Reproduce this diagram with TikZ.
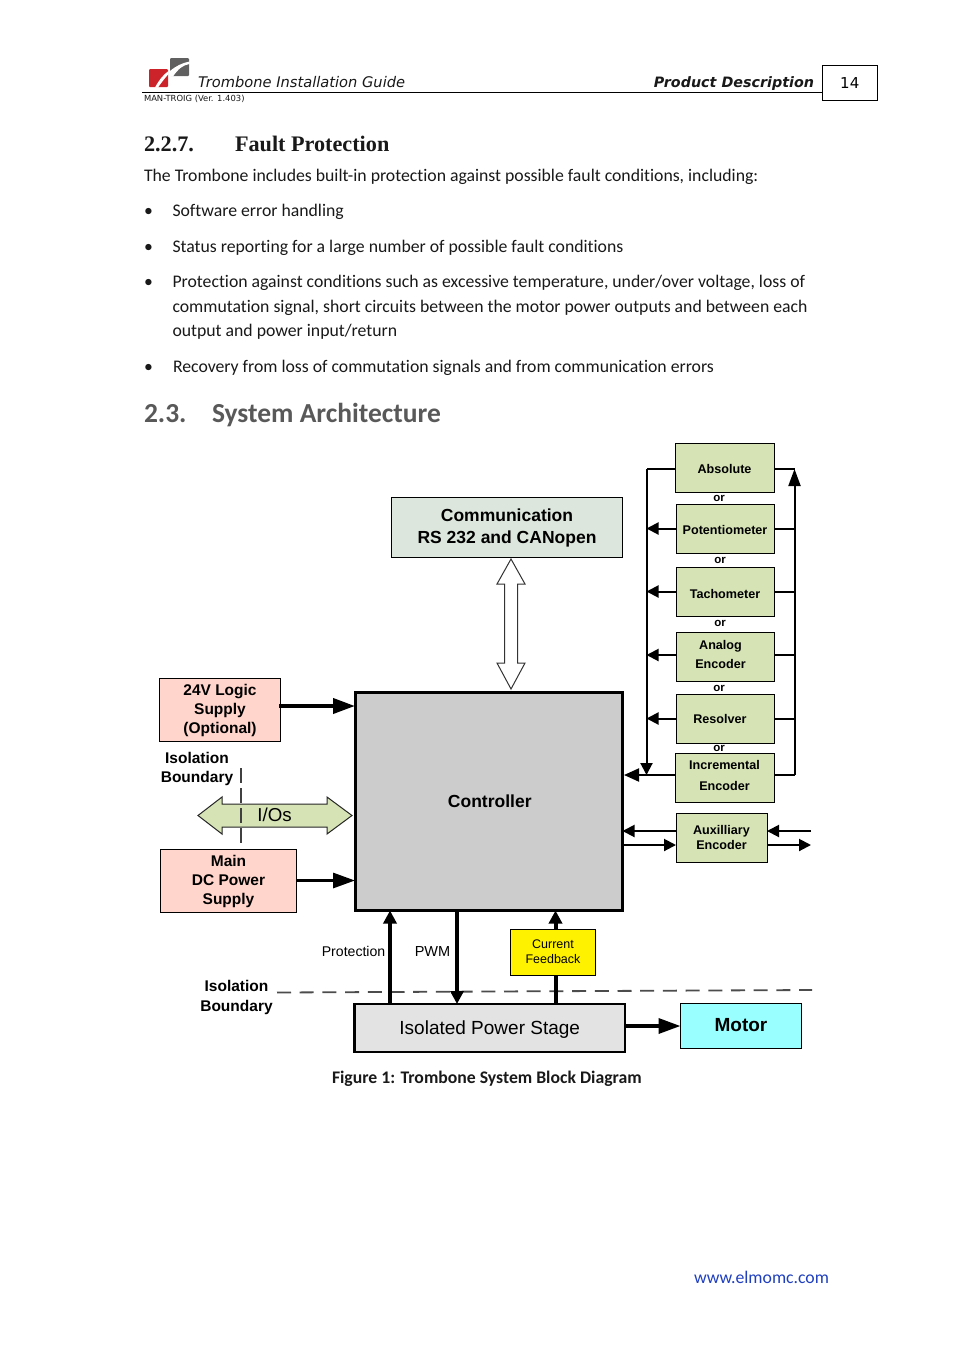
\documentclass[tikz,border=0pt]{standalone}
\usepackage{fontspec}
\setmainfont{Carlito}[RawFeature={-liga}]
\newfontfamily\arialf{Liberation Sans}
\newfontfamily\verdf{DejaVu Sans}
\newfontfamily\serff{Liberation Serif}
\usetikzlibrary{arrows.meta}
\definecolor{grn}{HTML}{D5E3B5}
\definecolor{pnk}{HTML}{FFD5CC}
\definecolor{comm}{HTML}{DCE6DC}
\definecolor{ctrl}{HTML}{CCCCCC}
\definecolor{iso}{HTML}{E3E3E3}
\definecolor{cyn}{HTML}{99FFFF}
\definecolor{linkc}{HTML}{1F3FBF}
\definecolor{headc}{HTML}{595959}
\definecolor{logor}{HTML}{CC2229}
\definecolor{logog}{HTML}{606060}
\tikzset{
 x=1pt,y=-1pt,
 txt/.style={inner sep=0,outer sep=0,anchor=base west,font=\fontsize{17.73}{17.73}\selectfont,text=black!90},
 box/.style={draw=black,line width=1pt,inner sep=0,outer sep=0,align=center,anchor=north west,font=\arialf\bfseries\fontsize{12.6}{14.5}\selectfont},
 enc/.style={box,fill=grn},
 psu/.style={box,fill=pnk,font=\arialf\bfseries\fontsize{15.5}{19}\selectfont},
 lab/.style={inner sep=0,outer sep=0,align=center,font=\arialf\bfseries\fontsize{15.5}{18.7}\selectfont},
 orl/.style={inner sep=0,outer sep=0,font=\arialf\bfseries\fontsize{11.5}{12}\selectfont},
 thin1/.style={line width=2pt,-{Triangle[length=12pt,width=12pt]}},
 thin2/.style={line width=2pt,-{Triangle[length=15pt,width=13pt]}},
 thick1/.style={line width=4pt,-{Triangle[length=13pt,width=13pt]}},
 thick2/.style={line width=3pt,-{Triangle[length=22pt,width=15pt]}},
 busl/.style={line width=2pt},
 dashl/.style={line width=1.8pt,draw=black!70,dash pattern=on 14pt off 8.7pt},
}
\begin{document}
\begin{tikzpicture}
\useasboundingbox (0,0) rectangle (954,1350);
\fill[white] (0,0) rectangle (954,1350);
% header
\fill[logor,rounded corners=1pt] (149,69) rectangle (168,87);
\fill[white] (155,87.5) .. controls (159,80) and (163,75) .. (168.5,71) -- (168.5,74) .. controls (165,78) and (161,83) .. (158,87.5) -- cycle;
\fill[logog,rounded corners=1pt] (170,58) rectangle (189,76);
\fill[white] (170,71) .. controls (176,66) and (182,63) .. (189.5,61.5) -- (189.5,64) .. controls (183,65) and (178,69) .. (173,76.5) -- (170,76.5) -- cycle;
\draw[line width=1pt] (142,92.5) -- (822,92.5);
\node[draw=black,line width=1pt,outer sep=0,minimum width=55.5pt,minimum height=35.5pt,inner sep=0,anchor=north west,font=\verdf\fontsize{15}{15}\selectfont] (pg) at (822,65) {14};
\node[txt,font=\verdf\itshape\fontsize{14.65}{14.65}\selectfont] (hl) at (198,87) {Trombone Installation Guide};
\node[txt,anchor=base east,font=\verdf\bfseries\itshape\fontsize{14.3}{14.3}\selectfont] (hr) at (814,87) {Product Description};
\node[txt,font=\verdf\fontsize{8.4}{8.4}\selectfont] (ver) at (144,101) {MAN-TROIG (Ver. 1.403)};
% text
\node[txt,font=\serff\bfseries\fontsize{22.2}{22.2}\selectfont] (h1a) at (144,151) {2.2.7.};
\node[txt,font=\serff\bfseries\fontsize{22.2}{22.2}\selectfont] (h1b) at (235,151) {Fault Protection};
\node[txt] (p0) at (144,181) {The Trombone includes built-in protection against possible fault conditions, including:};
\node[txt] (b1) at (144,216) {•};
\node[txt] (t1) at (172.5,216) {Software error handling};
\node[txt] (b2) at (144,252) {•};
\node[txt] (t2) at (172.5,252) {Status reporting for a large number of possible fault conditions};
\node[txt] (b3) at (144,287) {•};
\node[txt] (t3a) at (172.5,287) {Protection against conditions such as excessive temperature, under/over voltage, loss of};
\node[txt] (t3b) at (172.5,312) {commutation signal, short circuits between the motor power outputs and between each};
\node[txt] (t3c) at (172.5,336) {output and power input/return};
\node[txt] (b4) at (144,372) {•};
\node[txt] (t4) at (173,372) {Recovery from loss of commutation signals and from communication errors};
\node[txt,text=headc,font=\bfseries\fontsize{27.5}{27.5}\selectfont] (h2a) at (144,422) {2.3.};
\node[txt,text=headc,font=\bfseries\fontsize{27.5}{27.5}\selectfont] (h2b) at (212,422) {System Architecture};
\node[txt,font=\bfseries\fontsize{17.7}{17.7}\selectfont] (cap) at (332,1083) {Figure 1: Trombone System Block Diagram};
\node[txt,text=linkc,anchor=base east] (url) at (829,1283) {www.elmomc.com};

% buses
\coordinate (bl) at (646.5,469);
\coordinate (br) at (794.5,469);
\coordinate (bottoml) at (646.5,775);
\coordinate (bottomr) at (794.5,775);

% encoder boxes
\node[enc,minimum width=99pt,minimum height=49pt] (abs) at (675,443) {\rule{0pt}{12pt}Absolute};
\node[enc,minimum width=98pt,minimum height=49pt] (pot) at (676,504) {\rule{0pt}{12pt}Potentiometer};
\node[enc,minimum width=98pt,minimum height=49pt] (tac) at (676,567) {\rule{0pt}{14pt}Tachometer};
\node[enc,minimum width=98pt,minimum height=49pt,font=\arialf\bfseries\fontsize{12.6}{19}\selectfont] (ana) at (676,632) {Analog\hspace*{9pt}\\Encoder\hspace*{9pt}\rule[-4pt]{0pt}{4pt}};
\node[enc,minimum width=98pt,minimum height=49pt] (res) at (676,694) {Resolver\hspace*{10pt}};
\node[enc,minimum width=99pt,minimum height=49pt,font=\arialf\bfseries\fontsize{12.6}{21}\selectfont] (inc) at (675,753) {Incremental\\Encoder\rule[-4pt]{0pt}{4pt}};
\node[enc,minimum width=91pt,minimum height=49pt] (aux) at (676,813) {Auxilliary\\Encoder};
\node[orl] (or1) at (719,498.7) {or};
\node[orl] (or2) at (720,560.7) {or};
\node[orl] (or3) at (720,623.7) {or};
\node[orl] (or4) at (719,688.3) {or};
\node[orl] (or5) at (719,748.7) {or};

% main boxes
\node[box,fill=ctrl,line width=3pt,minimum width=267.5pt,minimum height=218pt,font=\arialf\bfseries\fontsize{17.5}{20}\selectfont] (ctl) at (355,692.5) {\hspace*{2pt}Controller};
\node[box,fill=comm,minimum width=231pt,minimum height=60.5pt,font=\arialf\bfseries\fontsize{17.5}{22}\selectfont] (com) at (391.5,497) {\rule{0pt}{14.5pt}Communication\\RS 232 and CANopen};
\node[psu,minimum width=121pt,minimum height=63pt] (log) at (159.5,678.5) {24V Logic\\Supply\\(Optional)};
\node[psu,minimum width=136pt,minimum height=63pt] (dc) at (160.5,849.5) {Main\\DC Power\\Supply};

% left and right buses
\draw[busl] (abs.west |- bl) -- (bl);
\draw[line width=2pt,-{Triangle[length=12pt,width=12pt]}] (bl) -- (bottoml);
\draw[busl] (abs.east |- br) -- (br);
\draw[line width=2pt,-{Triangle[length=17pt,width=12pt]}] (bottomr) -- (br);
\draw[busl] (inc.east |- bottomr) -- (bottomr);
\draw[busl] (pot.east) -- (pot.east -| br);
\draw[busl] (tac.east) -- (tac.east -| br);
\draw[busl] ([yshift=2pt]ana.east) -- ([yshift=2pt]ana.east -| br);
\draw[busl] (res.east) -- (res.east -| br);
\draw[thin1] (pot.west) -- (pot.west -| bl);
\draw[thin1] (tac.west) -- (tac.west -| bl);
\draw[thin1] ([yshift=1.5pt]ana.west) -- ([yshift=1.5pt]ana.west -| bl);
\draw[thin1] (res.west) -- (res.west -| bl);
\coordinate (cin) at (ctl.east |- bottoml);
\draw[thin2] (inc.west |- bottoml) -- ([xshift=1.5pt]cin);

% auxiliary
\coordinate (a1) at (676,831);
\coordinate (a2) at (676,845);
\coordinate (a3) at (767,831);
\coordinate (a4) at (767,845);
\coordinate (a5) at (811,831);
\coordinate (a6) at (811,845);
\draw[thin1] (a1) -- (ctl.east |- a1);
\draw[thin1] (ctl.east |- a2) -- (a2);
\draw[thin1] (a5) -- (a3);
\draw[thin1] (a4) -- (a6);

% double arrow
\filldraw[draw=black!80,line width=1pt,fill=white]
 (511,559) -- (525,584) -- (517.5,584) -- (517.5,663) -- (525,663) -- (511,689) -- (497,663) -- (504.5,663) -- (504.5,584) -- (497,584) -- cycle;

% supply arrows
\coordinate (s1) at (279,706);
\draw[thick2,line width=3.8pt] (s1) -- (ctl.west |- s1);
\draw[thick2] (dc.east |- 0,880.5) -- (ctl.west |- 0,880.5);

% I/O arrow
\filldraw[draw=black!85,line width=1pt,fill=grn]
 (198,815.5) -- (222,797) -- (222,804) -- (327,804) -- (327,797) -- (352,815.5) -- (327,834) -- (327,827) -- (222,827) -- (222,834) -- cycle;
\node[inner sep=0,font=\arialf\fontsize{18.7}{18.7}\selectfont] (ios) at (274.5,815) {I/Os};
\coordinate (v1) at (241,768);
\coordinate (v2) at (241,843);
\draw[line width=1.4pt,draw=black!75,dash pattern=on 15pt off 5pt] (v1) -- (v2);
\node[lab] (il1) at (197,769) {Isolation\\Boundary};

% lower part
\node[box,fill=iso,line width=2.5pt,minimum width=270.5pt,minimum height=48pt,font=\arialf\fontsize{19}{19}\selectfont] (ips) at (354.5,1004) {\rule{0pt}{16.5pt}Isolated Power Stage};
\node[box,fill=cyn,minimum width=121pt,minimum height=45pt,font=\arialf\bfseries\fontsize{19}{19}\selectfont] (mot) at (680.5,1003.5) {\raisebox{2pt}{Motor}};
\coordinate (d1) at (277,992.5);
\coordinate (d2) at (812,990);
\draw[dashl] (d1) -- (d2);
\coordinate (pt) at (390,1004);
\coordinate (pw) at (457,1004);
\coordinate (cf) at (555.5,1004);
\draw[thick1] (pt) -- (pt |- ctl.south);
\draw[thick1] (pw |- ctl.south) -- (pw);
\draw[thick1] (cf) -- (cf |- ctl.south);
\node[box,fill=yellow,minimum width=85pt,minimum height=46pt,font=\arialf\fontsize{12.5}{15}\selectfont] (fb) at (510.5,929) {\raisebox{1pt}{Current}\\\raisebox{1pt}{Feedback}};
\draw[thick2,line width=3.5pt] (ips.east |- mot.west) -- (mot.west);
\node[inner sep=0,anchor=east,font=\arialf\fontsize{14.1}{14.1}\selectfont] (ptl) at (385.5,951) {Protection};
\node[inner sep=0,anchor=center,font=\arialf\fontsize{14.5}{14.5}\selectfont] (pwl) at (432.5,951) {PWM};
\node[lab,font=\arialf\bfseries\fontsize{15.5}{19.2}\selectfont] (il2) at (236.5,997.5) {Isolation\\Boundary};
\end{tikzpicture}
\end{document}
